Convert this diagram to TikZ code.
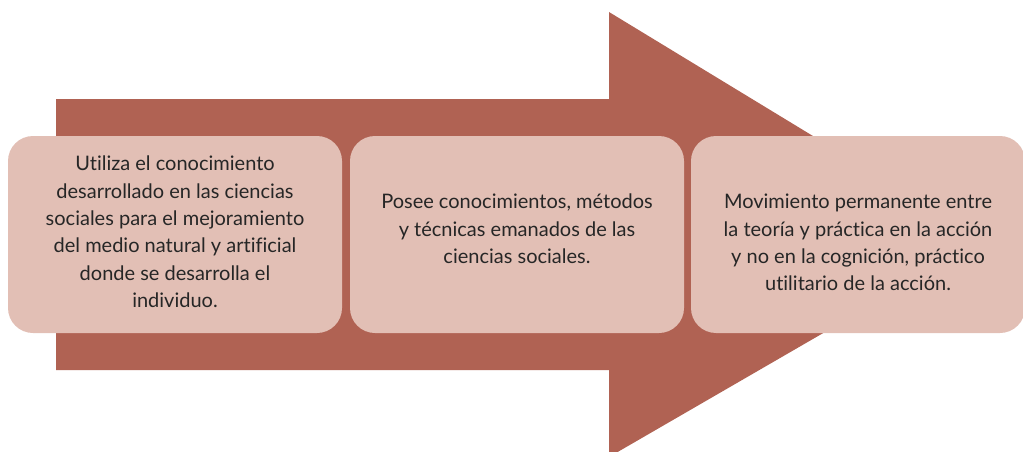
\documentclass[tikz,border=0pt]{standalone}
\usepackage{fontspec}
\setmainfont{Lato}[Ligatures={NoCommon}]
\definecolor{arrowc}{HTML}{B06253}
\definecolor{boxc}{HTML}{E2BFB5}
\definecolor{txtc}{HTML}{262626}
\tikzset{
  stagebox/.style={fill=boxc, draw=none, rounded corners=25pt, minimum width=334pt, minimum height=197pt, inner sep=0pt},
  stagetext/.style={text=txtc, align=center, inner sep=0pt, font=\fontsize{20}{27.4}\selectfont}
}
\begin{document}
\begin{tikzpicture}[x=1pt,y=-1pt]
\useasboundingbox (0,0) rectangle (1023,452);
\fill[arrowc] (56,99) -- (609,99) -- (609,12) -- (984,240) -- (609,457) -- (609,370) -- (56,370) -- cycle;
\node[stagebox] (b1) at (175,234.5) {};
\node[stagebox] (b2) at (517,234.5) {};
\node[stagebox] (b3) at (858,234.5) {};
\node[stagetext] (t1) at (175,232) {Utiliza el conocimiento\\desarrollado en las ciencias\\sociales para el mejoramiento\\del medio natural y artificial\\donde se desarrolla el\\individuo.};
\node[stagetext] (t2) at (517,229) {Posee conocimientos, métodos\\y técnicas emanados de las\\ciencias sociales.};
\node[stagetext] (t3) at (858,242.5) {Movimiento permanente entre\\la teoría y práctica en la acción\\y no en la cognición, práctico\\utilitario de la acción.};
\end{tikzpicture}
\end{document}
